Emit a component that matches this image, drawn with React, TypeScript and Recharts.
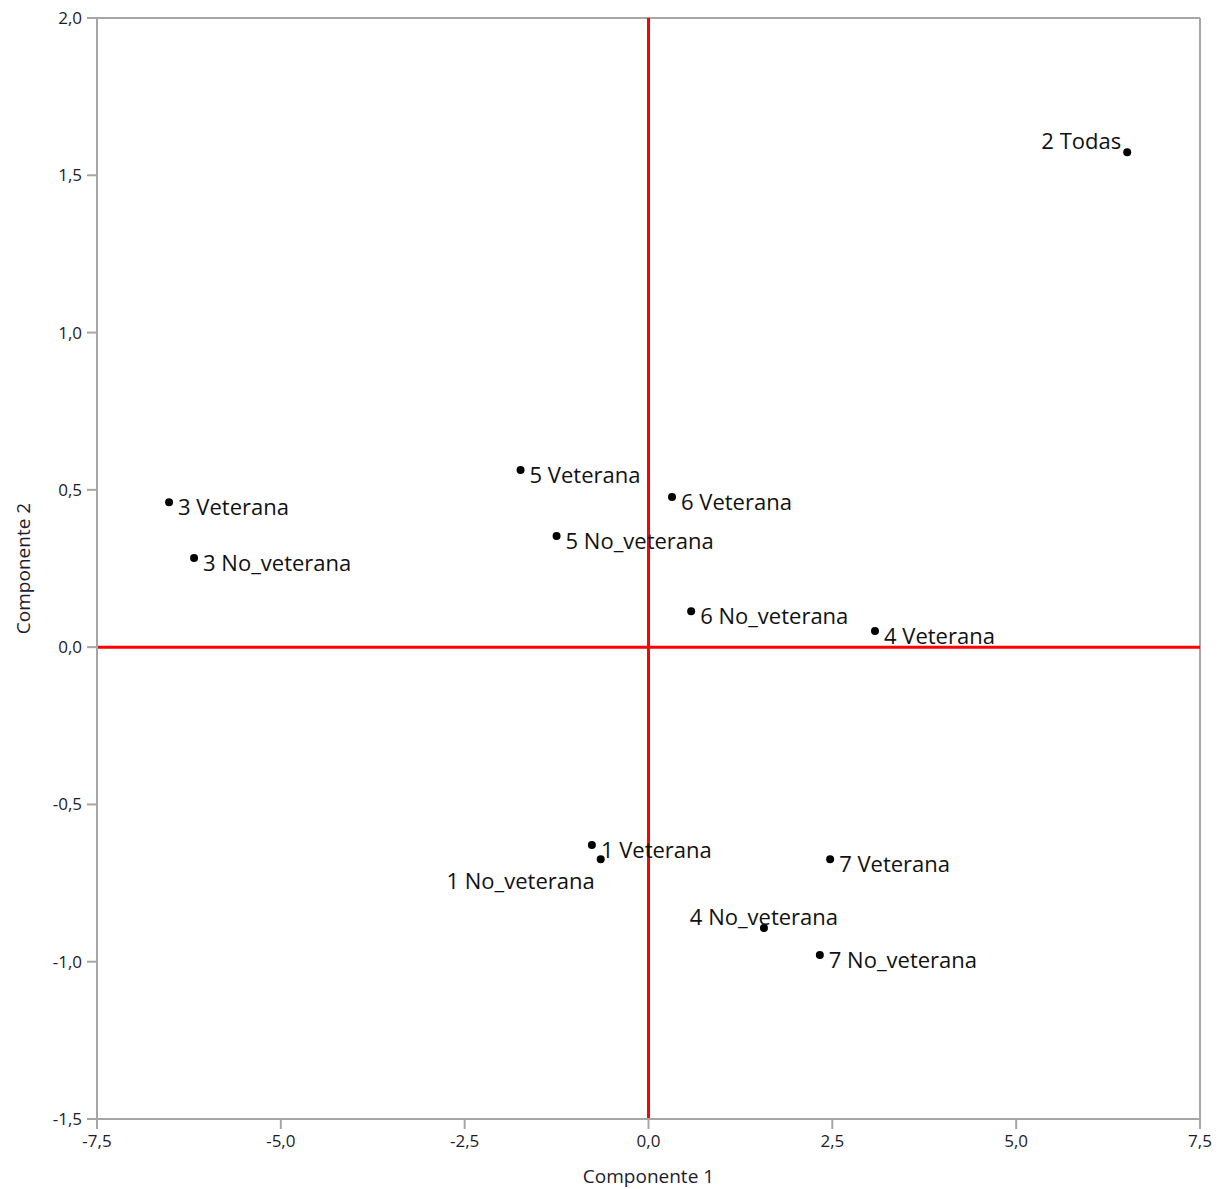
import React from 'react';
import {
  ScatterChart,
  Scatter,
  XAxis,
  YAxis,
  ReferenceLine,
  Label
} from 'recharts';

// loadings
const names = [
  '2 Todas',
  '5 Veterana',
  '6 Veterana',
  '3 Veterana',
  '5 No_veterana',
  '3 No_veterana',
  '6 No_veterana',
  '4 Veterana',
  '1 Veterana',
  '1 No_veterana',
  '7 Veterana',
  '4 No_veterana',
  '7 No_veterana'
];
const comp1 = [6.51, -1.74, 0.32, -6.52, -1.25, -6.18, 0.58, 3.08, -0.77, -0.65, 2.47, 1.57, 2.33];
const comp2 = [1.573, 0.563, 0.477, 0.461, 0.353, 0.283, 0.114, 0.051, -0.629, -0.674, -0.674, -0.893, -0.979];

const xTicks = [-7.5, -5, -2.5, 0, 2.5, 5, 7.5];
const yTicks = [-1.5, -1, -0.5, 0, 0.5, 1, 1.5, 2];

const points = names.map((name, i) => ({ name, c1: comp1[i], c2: comp2[i] }));

const FONT = '"Open Sans", Lato, sans-serif';
const fmt = (v: number) => v.toFixed(1).replace('.', ',');

// where each label sits relative to its dot
const labelSpot = (name: string) => {
  if (name === '2 Todas') return { dx: -6, dy: -12, anchor: 'end' };
  if (name === '1 No_veterana') return { dx: -6, dy: 21, anchor: 'end' };
  if (name === '4 No_veterana') return { dx: 0, dy: -12, anchor: 'middle' };
  return { dx: 9, dy: 4, anchor: 'start' };
};

const Dot = (props: any) => {
  const { cx, cy, payload } = props;
  const s = labelSpot(payload.name);
  return (
    <g>
      <circle cx={cx} cy={cy} r={4} fill="#000" />
      <text
        x={cx + s.dx}
        y={cy + s.dy}
        textAnchor={s.anchor as any}
        dominantBaseline="central"
        fontFamily={FONT}
        fontSize={22}
        fill="#111"
      >
        {payload.name}
      </text>
    </g>
  );
};

const tickStyle = { fill: '#1c1c2c', fontSize: 17, fontFamily: FONT };

export default function App() {
  return (
    <div style={{ position: 'absolute', left: 0, top: 0, background: '#fff' }}>
      <ScatterChart
        width={1223}
        height={1189}
        margin={{ top: 18, right: 23, left: 37, bottom: 30 }}
      >
        <XAxis
          type="number"
          dataKey="c1"
          domain={[-7.5, 7.5]}
          ticks={xTicks}
          tickFormatter={fmt}
          stroke="#a6a6a6"
          strokeWidth={2}
          tickSize={10}
          tickMargin={6}
          tick={tickStyle}
          height={40}
          allowDataOverflow
        >
          <Label
            value="Componente 1"
            position="insideBottom"
            offset={-24}
            style={{ fill: '#1c1c2c', fontSize: 19, fontFamily: FONT }}
          />
        </XAxis>
        <YAxis
          type="number"
          dataKey="c2"
          domain={[-1.5, 2]}
          ticks={yTicks}
          tickFormatter={fmt}
          stroke="#a6a6a6"
          strokeWidth={2}
          tickSize={10}
          tickMargin={5}
          tick={tickStyle}
          width={60}
          allowDataOverflow
        >
          <Label
            value="Componente 2"
            angle={-90}
            position="insideLeft"
            offset={-14}
            style={{ fill: '#1c1c2c', fontSize: 19, fontFamily: FONT, textAnchor: 'middle' }}
          />
        </YAxis>
        <ReferenceLine y={2} stroke="#a6a6a6" strokeWidth={2} />
        <ReferenceLine x={7.5} stroke="#a6a6a6" strokeWidth={2} />
        <ReferenceLine x={0} stroke="#ff0000" strokeWidth={3} />
        <ReferenceLine y={0} stroke="#ff0000" strokeWidth={3} />
        <Scatter data={points} shape={<Dot />} isAnimationActive={false} />
      </ScatterChart>
    </div>
  );
}
